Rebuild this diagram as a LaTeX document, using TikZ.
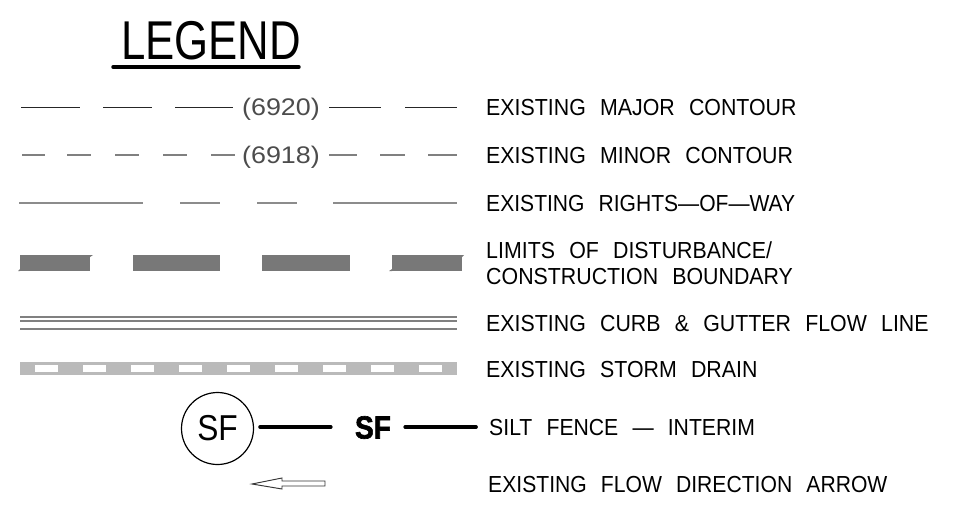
\documentclass[tikz,border=0pt]{standalone}
\usepackage{fontspec}
\setmainfont{Liberation Sans}[WordSpace=2.4]
\newfontfamily\heavyfont[FakeBold=2]{Liberation Sans Bold}
\usetikzlibrary{positioning}

\begin{document}
\begin{tikzpicture}[x=0.75pt, y=-0.75pt]
        \tikzstyle{label} = [font=\fontsize{17.4}{20}\selectfont, anchor=west, inner sep=0pt, xscale=0.92];
        \tikzstyle{elev} = [font=\fontsize{18}{20}\selectfont, black!70, inner sep=0pt, xscale=1.12];
        \tikzstyle{major} = [line width=0.75pt, black!85];
        \tikzstyle{minor} = [line width=0.9pt, black!50];
        \tikzstyle{row} = [line width=0.9pt, black!45];
        \tikzstyle{limit} = [fill=black!53];
        \tikzstyle{curb} = [line width=0.8pt, black!50];
        \tikzstyle{fence} = [line width=2.8pt, line cap=round];

        \useasboundingbox (0,0) rectangle (968,508);

        % title
        \node [font=\fontsize{41}{44}\selectfont, inner sep=0pt, xscale=0.8] (title) at (211,41) {LEGEND};
        \draw [line width=2.6pt, line cap=round] (113,67) -- (299,67);

        % major contour
        \foreach \a/\b in {21/80, 103/152, 175/233, 329/381, 405/457}
            \draw [major] (\a,107) -- (\b,107);
        \node [elev] (majorelev) at (281,109) {(6920)};
        \node [label] (majortext) at (486,107.5) {EXISTING MAJOR CONTOUR};

        % minor contour
        \foreach \a/\b in {22/45, 67/91, 115/139, 163/187, 211/235, 329/357, 380/405, 428/457}
            \draw [minor] (\a,155) -- (\b,155);
        \node [elev] (minorelev) at (281,157) {(6918)};
        \node [label] (minortext) at (486,155.5) {EXISTING MINOR CONTOUR};

        % rights of way
        \foreach \a/\b in {19/143, 180/220, 257/297, 333/457}
            \draw [row] (\a,203) -- (\b,203);
        \node [label, xscale=0.987] (rowtext) at (486,203.5) {EXISTING RIGHTS---OF---WAY};

        % disturbance limits
        \foreach \a/\b in {20/90, 133/220, 262/350, 392/462}
            \fill [limit] (\a,255) rectangle (\b,271);
        \fill [limit] (18,271) -- (20,271) -- (20,269) -- cycle;
        \fill [limit] (90,255) -- (93,255) -- (90,257) -- cycle;
        \fill [limit] (389,271) -- (392,271) -- (392,269) -- cycle;
        \fill [limit] (462,255) -- (464,255) -- (462,257) -- cycle;
        \node [label] (limittext) at (486,250.5) {LIMITS OF DISTURBANCE/};
        \node [label] (boundtext) at (486,276.5) {CONSTRUCTION BOUNDARY};

        % curb and gutter
        \foreach \y in {317, 321, 329}
            \draw [curb] (20,\y) -- (457,\y);
        \node [label] (curbtext) at (486,323.5) {EXISTING CURB \& GUTTER FLOW LINE};

        % storm drain
        \fill [black!27] (20,362) rectangle (457,375);
        \foreach \a in {35, 83, ..., 419}
            \fill [white] (\a,365) rectangle (\a+23,372);
        \node [label] (draintext) at (486,369.5) {EXISTING STORM DRAIN};

        % silt fence
        \node [circle, draw, line width=0.9pt, minimum size=54pt, inner sep=0pt,
            font=\fontsize{27}{28}\selectfont] (sfcirc) at (217.5,428.5) {\scalebox{0.88}[1]{SF}};
        \node [font=\fontsize{24}{26}\heavyfont, inner sep=0pt, xscale=0.88] (sfmark) at (373,427.5) {SF};
        \coordinate (sfend) at (476,427);
        \draw [fence, shorten <=4.5pt, shorten >=18pt] (sfcirc.east |- sfend) -- (sfmark.west |- sfend);
        \draw [fence, shorten <=10.5pt] (sfmark.east |- sfend) -- (sfend);
        \node [label, xscale=0.993] (sftext) at (489,427.5) {SILT FENCE --- INTERIM};

        % flow arrow
        \draw [line width=0.7pt, black!80] (252,484) -- (282,478) -- (282,481) -- (325,481)
            -- (325,486) -- (282,486) -- (282,489) -- cycle;
        \node [label, xscale=0.99] (flowtext) at (488,484.5) {EXISTING FLOW DIRECTION ARROW};
\end{tikzpicture}
\end{document}
